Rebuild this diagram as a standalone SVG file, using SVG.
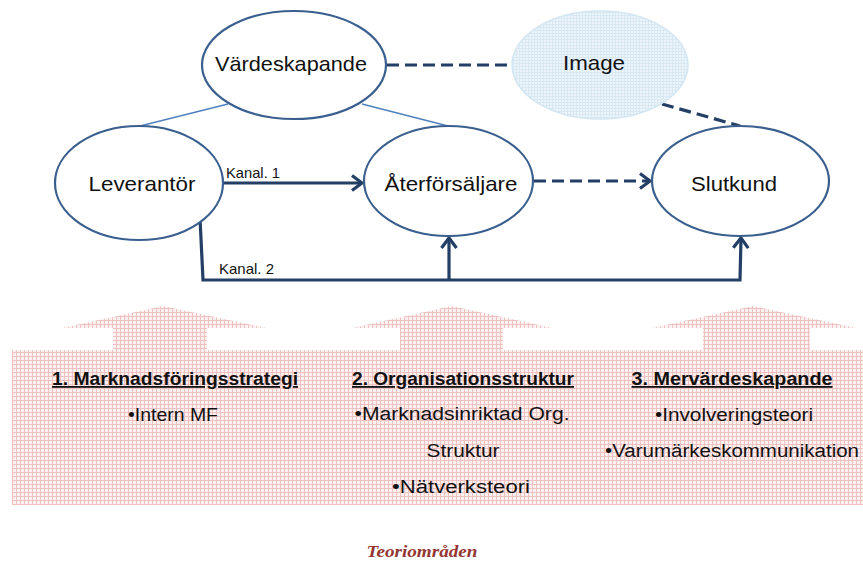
<svg xmlns="http://www.w3.org/2000/svg" width="863" height="563" viewBox="0 0 863 563">
<style>
.node{fill:#ffffff;stroke:#3a5f8f;stroke-width:2.2}
.nt{font-family:"Liberation Sans",Arial,sans-serif;font-size:21px;fill:#111;text-anchor:middle}
.thin{stroke:#4f81bd;stroke-width:1.3;fill:none}
.dash{stroke:#243f66;stroke-width:3.2;fill:none;stroke-dasharray:12 6}
.solid{stroke:#243f66;stroke-width:3.2;fill:none}
.lbl{font-family:"Liberation Sans",Arial,sans-serif;font-size:14.5px;fill:#111}
.ttl{font-family:"Liberation Sans",Arial,sans-serif;font-size:18px;font-weight:bold;fill:#111;text-anchor:middle;text-decoration:underline}
.bt{font-family:"Liberation Sans",Arial,sans-serif;font-size:18px;fill:#111;text-anchor:middle}
.cap{font-family:"Liberation Serif","Times New Roman",serif;font-size:17px;font-weight:bold;font-style:italic;fill:#943634;text-anchor:middle}
.pink{fill:url(#pinkp)}
</style>
<defs>
<pattern id="pinkp" width="4" height="4" patternUnits="userSpaceOnUse">
<rect width="4" height="4" fill="#fcf0f0"/>
<rect width="4" height="1" fill="#efc2c2"/>
<rect width="1" height="4" fill="#efc2c2"/>
</pattern>
<pattern id="bluep" width="3" height="3" patternUnits="userSpaceOnUse">
<rect width="3" height="3" fill="#eef5fa"/>
<rect width="3" height="1" fill="#d9e9f4"/>
<rect width="1" height="3" fill="#d9e9f4"/>
</pattern>
<marker id="arr" markerUnits="userSpaceOnUse" markerWidth="24" markerHeight="24" refX="0" refY="0" orient="auto" overflow="visible">
<path d="M-10,-7.5 L0,0 L-10,7.5" fill="none" stroke="#243f66" stroke-width="3.2"/>
</marker>
</defs>

<g id="connectors">
<line class="thin" x1="228" y1="104" x2="140" y2="126"/>
<line class="thin" x1="362" y1="104" x2="448" y2="126"/>
<line class="dash" x1="387" y1="65" x2="512" y2="65"/>
<line class="dash" x1="662" y1="104" x2="740" y2="126"/>
<line class="solid" x1="223" y1="183" x2="362" y2="183" marker-end="url(#arr)"/>
<line class="dash" x1="534" y1="181" x2="650" y2="181" marker-end="url(#arr)"/>
<path class="solid" d="M200,218 L203,280 L740,280 L741,238" marker-end="url(#arr)"/>
<path class="solid" d="M449,280 L449,238" marker-end="url(#arr)"/>
<text class="lbl" x="226" y="178" textLength="54" lengthAdjust="spacingAndGlyphs">Kanal. 1</text>
<text class="lbl" x="219" y="274" textLength="55" lengthAdjust="spacingAndGlyphs">Kanal. 2</text>
</g>

<g id="vardeskapande">
<ellipse class="node" cx="294" cy="65" rx="92" ry="54"/>
<text class="nt" x="291" y="71" textLength="152" lengthAdjust="spacingAndGlyphs">Värdeskapande</text>
</g>
<g id="image">
<ellipse cx="600" cy="65" rx="88" ry="54" fill="url(#bluep)" stroke="#d3e6f2" stroke-width="1.5"/>
<text class="nt" x="594" y="70" textLength="62" lengthAdjust="spacingAndGlyphs">Image</text>
</g>
<g id="leverantor">
<ellipse class="node" cx="139" cy="183" rx="84" ry="57"/>
<text class="nt" x="142" y="191" textLength="107" lengthAdjust="spacingAndGlyphs">Leverantör</text>
</g>
<g id="aterforsaljare">
<ellipse class="node" cx="448.5" cy="181" rx="84.5" ry="55"/>
<text class="nt" x="451" y="191" textLength="133" lengthAdjust="spacingAndGlyphs">Återförsäljare</text>
</g>
<g id="slutkund">
<ellipse class="node" cx="740.5" cy="181" rx="88.5" ry="55"/>
<text class="nt" x="734" y="191" textLength="86" lengthAdjust="spacingAndGlyphs">Slutkund</text>
</g>

<g id="theory-areas">
<rect class="pink" x="12" y="350" width="851" height="155"/>
<polygon class="pink" points="163,306 267,328 207,328 207,351 113,351 113,328 62,328"/>
<polygon class="pink" points="452,306 553,328 503,328 503,351 400,351 400,328 352,328"/>
<polygon class="pink" points="753,306 857,328 810,328 810,351 703,351 703,328 652,328"/>
</g>

<g id="area1">
<text class="ttl" x="175" y="385" textLength="246" lengthAdjust="spacingAndGlyphs">1. Marknadsföringsstrategi</text>
<text class="bt" x="173" y="421" textLength="90" lengthAdjust="spacingAndGlyphs">•Intern MF</text>
</g>
<g id="area2">
<text class="ttl" x="463" y="385" textLength="222" lengthAdjust="spacingAndGlyphs">2. Organisationsstruktur</text>
<text class="bt" x="462" y="420" textLength="215" lengthAdjust="spacingAndGlyphs">•Marknadsinriktad Org.</text>
<text class="bt" x="463" y="457" textLength="73" lengthAdjust="spacingAndGlyphs">Struktur</text>
<text class="bt" x="461" y="493" textLength="138" lengthAdjust="spacingAndGlyphs">•Nätverksteori</text>
</g>
<g id="area3">
<text class="ttl" x="732" y="385" textLength="201" lengthAdjust="spacingAndGlyphs">3. Mervärdeskapande</text>
<text class="bt" x="734" y="421" textLength="158" lengthAdjust="spacingAndGlyphs">•Involveringsteori</text>
<text class="bt" x="732" y="457" textLength="254" lengthAdjust="spacingAndGlyphs">•Varumärkeskommunikation</text>
</g>

<text class="cap" x="422" y="557" textLength="111" lengthAdjust="spacingAndGlyphs">Teoriområden</text>
</svg>
